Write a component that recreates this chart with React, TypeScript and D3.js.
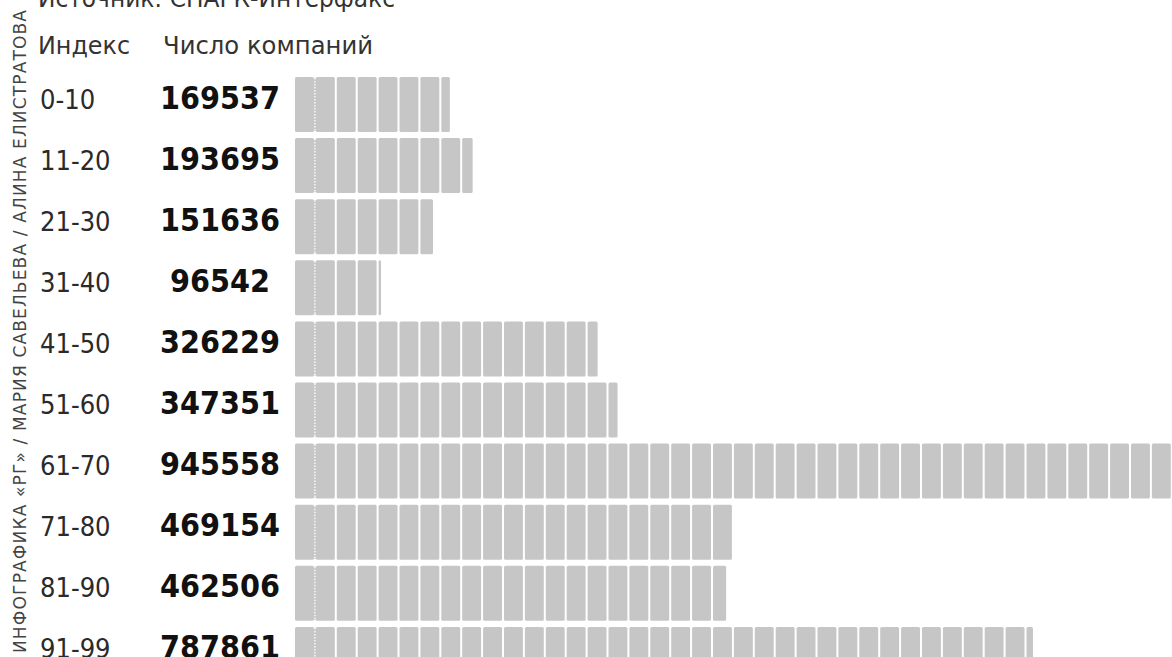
import React from 'react';
import * as d3 from 'd3';

const indexLabels = ['0-10', '11-20', '21-30', '31-40', '41-50', '51-60', '61-70', '71-80', '81-90', '91-99'];
const companyCounts = [169537, 193695, 151636, 96542, 326229, 347351, 945558, 469154, 462506, 787861];
const headerLabels = ['Индекс', 'Число компаний'];
const sourceText = 'Источник: СПАРК-Интерфакс';
const creditText = 'ИНФОГРАФИКА «РГ» / МАРИЯ САВЕЛЬЕВА / АЛИНА ЕЛИСТРАТОВА';

const W = 1172;
const H = 657;
const FONT = '"DejaVu Sans", sans-serif';
const FONT_C = '"DejaVu Sans Condensed", "DejaVu Sans", sans-serif';
const BAR_COLOR = '#c6c6c6';
const BAR_START = 295;
const SEG_PITCH = 20.9;
const SEG_GAP = 2;

export default function App() {
  const y = d3
    .scaleBand<number>()
    .domain(d3.range(companyCounts.length))
    .range([77, 77 + 9 * 61.1 + 55])
    .paddingInner(0.1)
    .paddingOuter(0);

  const x = d3.scaleLinear().domain([0, 1000000]).range([290, 1233]);

  return (
    <svg
      width={W}
      height={H}
      style={{ position: 'absolute', left: 0, top: 0, display: 'block', background: '#fff' }}
    >
      <text x={38} y={7} fontFamily={FONT} fontSize={25} fill="#333" textLength={357} lengthAdjust="spacingAndGlyphs">
        {sourceText}
      </text>
      <text
        transform={`translate(26,653) rotate(-90)`}
        fontFamily={FONT}
        fontSize={17}
        fill="#444"
        textLength={643}
        lengthAdjust="spacing"
      >
        {creditText}
      </text>
      <text x={38} y={54} fontFamily={FONT} fontSize={25} fill="#333" textLength={92} lengthAdjust="spacingAndGlyphs">
        {headerLabels[0]}
      </text>
      <text x={163} y={54} fontFamily={FONT} fontSize={25} fill="#333" textLength={210} lengthAdjust="spacingAndGlyphs">
        {headerLabels[1]}
      </text>
      {companyCounts.map((v, i) => {
        const top = y(i) as number;
        const h = y.bandwidth();
        const end = Math.min(x(v), W + 20);
        const label = d3.format('d')(v);
        const segs: { x0: number; x1: number }[] = [];
        for (let k = 0; ; k++) {
          const s = BAR_START + k * SEG_PITCH;
          if (s >= end - 1) break;
          segs.push({ x0: s, x1: Math.min(s + SEG_PITCH - SEG_GAP, end) });
        }
        return (
          <g key={i}>
            <text x={40} y={top + 31.5} fontFamily={FONT_C} fontSize={27} fill="#2a2a2a">
              {indexLabels[i]}
            </text>
            <text
              x={220}
              y={top + 31.5}
              fontFamily={FONT_C}
              fontSize={32}
              fontWeight="bold"
              textAnchor="middle"
              fill="#111"
              textLength={label.length * 20}
              lengthAdjust="spacingAndGlyphs"
            >
              {label}
            </text>
            {segs.map((s, k) => (
              <rect key={k} x={s.x0} y={top} width={s.x1 - s.x0} height={h} rx={1.5} fill={BAR_COLOR} />
            ))}
            {segs.length > 1 && (
              <g>
                <rect x={segs[0].x1 - 0.5} y={top + 1} width={SEG_GAP + 1} height={h - 2} fill={BAR_COLOR} />
                <line
                  x1={segs[0].x1 + SEG_GAP / 2}
                  x2={segs[0].x1 + SEG_GAP / 2}
                  y1={top + 1}
                  y2={top + h - 1}
                  stroke="#fff"
                  strokeWidth={1.3}
                  strokeDasharray="1.5,1.5"
                />
              </g>
            )}
          </g>
        );
      })}
    </svg>
  );
}
